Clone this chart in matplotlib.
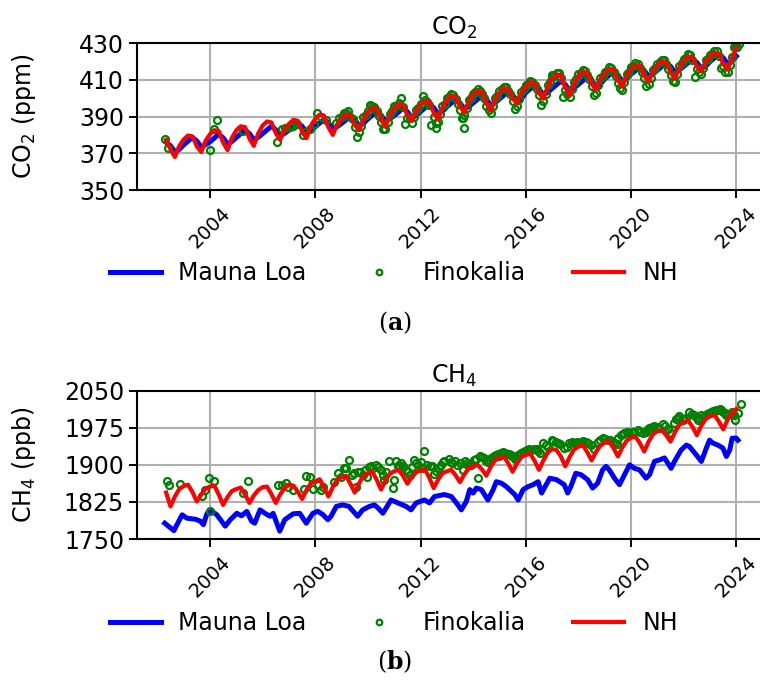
import numpy as np
import matplotlib
matplotlib.use("Agg")
from matplotlib import pyplot as plt

# ---- CO2 (ppm) ----
# bimonthly values (Jan, Mar, May, Jul, Sep, Nov), May 2002 -> Jan 2024
co2_mlo = [376.0, 374.1, 370.8, 372.1,
           374.6, 376.6, 378.6, 376.7, 373.4, 374.7,
           376.3, 378.3, 380.3, 378.4, 375.1, 376.4,
           378.6, 380.6, 382.6, 380.7, 377.4, 378.7,
           380.7, 382.7, 384.7, 382.8, 379.5, 380.8,
           382.6, 384.6, 386.6, 384.7, 381.4, 382.7,
           384.4, 386.4, 388.4, 386.5, 383.2, 384.5,
           386.2, 388.2, 390.2, 388.3, 385.0, 386.3,
           388.7, 390.7, 392.7, 390.8, 387.5, 388.8,
           390.5, 392.5, 394.5, 392.6, 389.3, 390.6,
           392.7, 394.7, 396.7, 394.8, 391.5, 392.8,
           395.3, 397.3, 399.3, 397.4, 394.1, 395.4,
           397.4, 399.4, 401.4, 399.5, 396.2, 397.5,
           399.6, 401.6, 403.6, 401.7, 398.4, 399.7,
           403.0, 405.0, 407.0, 405.1, 401.8, 403.1,
           405.3, 407.3, 409.3, 407.4, 404.1, 405.4,
           407.5, 409.5, 411.5, 409.6, 406.3, 407.6,
           410.5, 412.5, 414.5, 412.6, 409.3, 410.6,
           413.0, 415.0, 417.0, 415.1, 411.8, 413.1,
           415.2, 417.2, 419.2, 417.3, 414.0, 415.3,
           417.3, 419.3, 421.3, 419.4, 416.1, 417.4,
           419.9, 421.9, 423.9, 422.0, 418.7, 420.0,
           422.8]
co2_nh = [377.3, 372.0, 368.0, 374.0,
          377.5, 379.7, 379.2, 373.8, 370.7, 376.8,
          380.4, 382.6, 382.1, 375.8, 371.7, 378.4,
          382.5, 384.7, 384.2, 378.0, 374.0, 380.8,
          385.1, 387.3, 386.8, 381.0, 377.3, 382.9,
          386.0, 388.2, 387.7, 381.9, 378.2, 384.8,
          388.8, 391.0, 390.5, 384.2, 380.0, 385.8,
          389.0, 391.2, 390.7, 385.5, 382.5, 388.8,
          392.5, 394.7, 394.2, 388.2, 384.4, 390.7,
          394.5, 396.7, 396.2, 390.8, 387.6, 393.2,
          396.3, 398.5, 398.0, 392.2, 388.5, 395.0,
          399.1, 401.3, 400.8, 395.4, 392.2, 398.3,
          401.9, 404.1, 403.6, 397.3, 393.2, 399.4,
          403.2, 405.4, 404.9, 399.9, 397.0, 403.0,
          406.5, 408.7, 408.2, 402.8, 399.7, 406.4,
          410.7, 412.9, 412.4, 405.9, 401.6, 408.1,
          412.2, 414.4, 413.9, 408.0, 404.4, 410.3,
          413.7, 415.9, 415.4, 409.8, 406.3, 412.3,
          415.9, 418.1, 417.6, 412.2, 409.0, 414.6,
          417.8, 420.0, 419.5, 414.0, 410.6, 416.8,
          420.5, 422.7, 422.2, 417.4, 414.7, 419.8,
          422.5, 424.7, 424.2, 418.8, 415.6, 421.5,
          427.5]
# Finokalia: bimonthly (Feb, Apr, Jun, Aug, Oct, Dec), Jun 2009 -> Feb 2024
fin_co2 = [388.5, 378.8, 385.0, 391.0,
           396.3, 395.0, 390.5, 383.3, 387.0, 392.8,
           395.8, 400.0, 386.0, 389.0, 390.0, 394.5,
           401.2, 398.0, 385.5, 383.5, 391.5, 396.8,
           400.5, 401.8, 397.0, 389.0, 394.5, 400.0,
           403.5, 404.0, 400.0, 393.5, 395.5, 401.0,
           404.8, 406.0, 402.0, 394.0, 399.5, 405.0,
           407.5, 409.0, 405.0, 396.3, 402.5, 409.0,
           412.0, 413.5, 400.6, 402.0, 405.0, 410.5,
           413.8, 415.0, 410.5, 401.6, 407.0, 412.3,
           415.0, 416.5, 412.0, 405.7, 409.0, 414.5,
           417.5, 418.8, 414.0, 406.8, 411.0, 416.5,
           419.5, 420.8, 416.0, 409.4, 413.0, 419.0,
           422.0, 423.5, 411.3, 414.0, 416.5, 421.5,
           424.0, 425.5, 416.5, 414.5, 418.0, 427.8,
           429.6]
# Finokalia: bimonthly (Jan, Mar, May, Jul, Sep, Nov), Jan 2009 -> Jan 2024
fin_co2_b = [390.0, 392.0, 389.5, 384.5, 381.5, 389.5,
             393.0, 395.5, 393.0, 387.0, 383.0, 391.5,
             395.5, 397.5, 395.0, 389.0, 386.5, 393.8,
             397.0, 399.0, 396.5, 389.5, 387.0, 395.5,
             400.0, 402.0, 399.5, 393.5, 391.0, 398.8,
             402.5, 404.8, 402.5, 396.0, 392.0, 400.0,
             404.0, 406.0, 404.0, 398.5, 395.5, 403.5,
             407.0, 409.5, 407.0, 401.5, 398.5, 407.0,
             411.5, 413.8, 411.0, 404.5, 400.5, 408.8,
             413.0, 415.2, 412.5, 406.5, 403.0, 411.0,
             414.5, 416.8, 414.0, 408.5, 404.5, 413.0,
             416.8, 419.0, 416.5, 411.0, 407.5, 415.5,
             418.8, 421.0, 418.5, 412.5, 409.0, 417.5,
             421.5, 423.8, 421.0, 416.0, 413.0, 420.5,
             423.5, 425.8, 423.0, 417.5, 414.0, 422.5,
             428.0]
# Finokalia: early / extra samples
fin_co2_xt = [2002.30, 2002.40, 2004.01, 2004.15, 2004.25, 2005.27, 2006.53,
              2006.72, 2006.85, 2007.03, 2007.16, 2007.30, 2007.53, 2007.62,
              2007.79, 2007.97, 2008.06, 2008.22, 2008.40, 2008.79, 2008.92,
              2009.10, 2009.23, 2012.60, 2013.62, 2013.65, 2017.00, 2024.04]
fin_co2_xv = [377.5, 372.6, 371.7, 383.0, 388.0, 382.0, 376.3,
              383.3, 384.0, 384.4, 385.1, 386.0, 380.0, 381.5,
              383.3, 385.7, 391.9, 389.5, 388.0, 386.6, 389.4,
              391.9, 393.2, 386.5, 389.0, 383.8, 412.8, 427.8]

# ---- CH4 (ppb) ----
ch4_mlo_t = [2002.28, 2002.63, 2002.94, 2003.13, 2003.45, 2003.64, 2003.75, 2003.89,
             2004.08, 2004.26, 2004.58, 2004.77, 2005.02, 2005.20, 2005.40, 2005.58,
             2005.70, 2005.90, 2006.09, 2006.28, 2006.40, 2006.65, 2006.84, 2007.16,
             2007.41, 2007.66, 2007.91, 2008.10, 2008.30, 2008.48, 2008.60, 2008.80,
             2009.04, 2009.28, 2009.61, 2009.80, 2010.06, 2010.25, 2010.40, 2010.57,
             2010.88, 2011.14, 2011.45, 2011.64, 2011.83, 2012.15, 2012.34, 2012.53,
             2012.91, 2013.17, 2013.42, 2013.55, 2013.74, 2013.87, 2014.00, 2014.12,
             2014.31, 2014.56, 2014.76, 2014.88, 2015.07, 2015.26, 2015.58, 2015.71,
             2015.90, 2016.09, 2016.28, 2016.47, 2016.60, 2016.91, 2017.17, 2017.46,
             2017.59, 2017.71, 2017.90, 2018.10, 2018.35, 2018.54, 2018.73, 2018.92,
             2019.05, 2019.17, 2019.37, 2019.56, 2019.75, 2019.94, 2020.13, 2020.32,
             2020.57, 2020.70, 2020.89, 2021.08, 2021.27, 2021.52, 2021.65, 2021.90,
             2022.10, 2022.22, 2022.48, 2022.67, 2022.86, 2022.98, 2023.11, 2023.30,
             2023.49, 2023.62, 2023.75, 2023.84, 2024.00, 2024.06]
ch4_mlo = [1782, 1767, 1799, 1792, 1790, 1786, 1779, 1802,
           1806, 1799, 1776, 1789, 1802, 1797, 1806, 1786,
           1782, 1809, 1802, 1796, 1802, 1766, 1789, 1801,
           1802, 1782, 1802, 1806, 1799, 1789, 1796, 1816,
           1819, 1816, 1796, 1809, 1816, 1819, 1812, 1802,
           1829, 1823, 1816, 1809, 1823, 1829, 1823, 1836,
           1840, 1836, 1819, 1809, 1826, 1850, 1843, 1853,
           1850, 1829, 1850, 1866, 1863, 1856, 1840, 1829,
           1850, 1856, 1860, 1866, 1843, 1873, 1870, 1860,
           1843, 1856, 1883, 1880, 1870, 1853, 1863, 1890,
           1897, 1890, 1873, 1860, 1880, 1900, 1893, 1890,
           1873, 1880, 1907, 1910, 1914, 1893, 1907, 1930,
           1940, 1937, 1920, 1907, 1934, 1950, 1944, 1940,
           1934, 1917, 1930, 1954, 1954, 1950]
# NH: bimonthly (Jan, Mar, May, Jul, Sep, Nov), May 2002 -> Jan 2024
ch4_nh = [1844, 1816, 1836, 1851,
          1857, 1860, 1845, 1826, 1840, 1852,
          1856, 1858, 1840, 1819, 1835, 1847,
          1851, 1854, 1840, 1823, 1838, 1849,
          1855, 1856, 1841, 1823, 1840, 1853,
          1860, 1858, 1846, 1831, 1849, 1863,
          1866, 1871, 1855, 1836, 1855, 1870,
          1875, 1878, 1862, 1844, 1863, 1878,
          1883, 1886, 1870, 1850, 1868, 1882,
          1887, 1890, 1878, 1862, 1875, 1885,
          1889, 1891, 1874, 1853, 1870, 1883,
          1887, 1890, 1879, 1865, 1881, 1893,
          1897, 1900, 1891, 1878, 1896, 1909,
          1914, 1917, 1903, 1886, 1903, 1916,
          1920, 1923, 1908, 1890, 1909, 1925,
          1932, 1930, 1917, 1897, 1916, 1931,
          1937, 1940, 1926, 1909, 1926, 1939,
          1945, 1947, 1934, 1917, 1935, 1949,
          1955, 1957, 1944, 1927, 1947, 1962,
          1968, 1970, 1960, 1947, 1966, 1981,
          1986, 1990, 1977, 1960, 1979, 1993,
          1998, 2001, 1988, 1972, 1991, 2005,
          2013]
fin_ch4_t = [2002.35, 2002.44, 2002.86, 2003.70, 2003.82, 2003.95, 2004.01, 2004.16,
             2005.25, 2005.43, 2006.60, 2006.72, 2006.88, 2006.97, 2007.16, 2007.56,
             2007.64, 2007.79, 2007.91, 2008.10, 2008.23, 2008.30, 2008.73, 2008.86,
             2008.98, 2009.10, 2009.17, 2009.30, 2009.40, 2009.48, 2009.55, 2009.62,
             2009.80, 2009.95, 2010.06, 2010.20, 2010.31, 2010.50, 2010.57, 2010.63,
             2010.82, 2010.95, 2011.00, 2011.07, 2011.20, 2011.33, 2011.45, 2011.60,
             2011.75, 2011.90, 2012.05, 2012.15, 2012.25, 2012.43, 2012.60, 2012.79,
             2012.91, 2013.07, 2013.20, 2013.30, 2013.49, 2013.60, 2013.68, 2013.80,
             2013.93, 2014.05, 2014.18, 2014.25, 2014.40, 2014.55, 2014.69, 2014.88,
             2015.00, 2015.07, 2015.20, 2015.35, 2015.48, 2015.60, 2015.71, 2015.90,
             2016.03, 2016.20, 2016.41, 2016.55, 2016.66, 2016.85, 2016.98, 2017.14,
             2017.30, 2017.46, 2017.65, 2017.84, 2018.03, 2018.18, 2018.29, 2018.48,
             2018.60, 2018.73, 2018.92, 2019.11, 2019.30, 2019.45, 2019.62, 2019.75,
             2019.94, 2020.13, 2020.25, 2020.44, 2020.55, 2020.70, 2020.89, 2021.08,
             2021.20, 2021.40, 2021.52, 2021.71, 2021.84, 2021.97, 2022.10, 2022.22,
             2022.41, 2022.54, 2022.67, 2022.79, 2022.95, 2023.11, 2023.24, 2023.37,
             2023.49, 2023.62, 2023.84, 2023.94, 2024.06, 2024.16]
fin_ch4 = [1868, 1860, 1861, 1838, 1850, 1873, 1806, 1868,
           1843, 1868, 1860, 1860, 1863, 1856, 1850, 1851,
           1877, 1875, 1851, 1860, 1850, 1855, 1866, 1883,
           1875, 1893, 1893, 1910, 1880, 1883, 1856, 1886,
           1880, 1875, 1895, 1893, 1900, 1889, 1880, 1870,
           1907, 1853, 1870, 1907, 1900, 1897, 1890, 1880,
           1909, 1900, 1893, 1928, 1900, 1897, 1887, 1900,
           1907, 1911, 1903, 1907, 1903, 1890, 1907, 1900,
           1900, 1910, 1873, 1917, 1913, 1905, 1914, 1920,
           1918, 1924, 1925, 1921, 1917, 1912, 1920, 1927,
           1930, 1930, 1932, 1925, 1945, 1937, 1950, 1947,
           1943, 1934, 1944, 1945, 1944, 1948, 1947, 1940,
           1933, 1947, 1954, 1951, 1947, 1943, 1961, 1964,
           1964, 1967, 1971, 1964, 1967, 1974, 1979, 1974,
           1983, 1972, 1964, 1992, 1998, 1991, 1994, 2006,
           2001, 1990, 2001, 1998, 2004, 2008, 2010, 2012,
           2007, 2001, 2006, 1991, 2004, 2023]
fin_ch4_t2 = [2009.70, 2009.88, 2010.13, 2010.40, 2010.70, 2011.13, 2011.27, 2011.52,
              2011.68, 2011.82, 2012.00, 2012.35, 2012.52, 2012.70, 2012.85, 2013.14,
              2013.40, 2013.75, 2014.12, 2014.33, 2014.48, 2014.62, 2014.80, 2014.95,
              2015.13, 2015.28, 2015.42, 2015.54, 2015.80, 2015.97, 2016.12, 2016.30,
              2016.48, 2016.75, 2017.05, 2017.22, 2017.55, 2017.75, 2017.95, 2018.10,
              2018.38, 2018.82, 2019.02, 2019.20, 2019.38, 2019.52, 2019.68, 2019.85,
              2020.05, 2020.35, 2020.62, 2020.80, 2021.00, 2021.30, 2021.62, 2021.78,
              2022.03, 2022.30, 2022.48, 2022.60, 2022.87, 2023.03, 2023.18, 2023.30,
              2023.43, 2023.56, 2023.72, 2023.90]
fin_ch4_2 = [1885, 1890, 1898, 1895, 1885, 1898, 1903, 1885,
             1895, 1903, 1905, 1898, 1882, 1893, 1905, 1905,
             1900, 1903, 1912, 1915, 1908, 1910, 1917, 1922,
             1926, 1922, 1920, 1915, 1925, 1929, 1932, 1933,
             1928, 1940, 1948, 1944, 1937, 1946, 1947, 1945,
             1944, 1950, 1953, 1950, 1945, 1955, 1962, 1966,
             1966, 1967, 1970, 1977, 1977, 1978, 1985, 1994,
             1993, 2003, 1996, 1995, 2002, 2006, 2009, 2011,
             2010, 2004, 2003, 2000]

years = [2004, 2008, 2012, 2016, 2020, 2024]

# time grids for the bimonthly series
t_line = 2002 + (np.arange(len(co2_nh)) + 2) / 6.0
t_fin_co2 = 2009 + 5 / 12.0 + np.arange(len(fin_co2)) / 6.0
t_fin_co2_b = 2009 + np.arange(len(fin_co2_b)) / 6.0

plt.rcParams['font.family'] = ['DejaVu Sans']
plt.rcParams['font.size'] = 17

fig = plt.figure(figsize=(7.6, 6.93), dpi=100)
ax1 = fig.add_axes([0.1807, 0.7258, 0.8325, 0.2121])
ax2 = fig.add_axes([0.1807, 0.2222, 0.8325, 0.2140])

blue = '#0000ff'
red = '#ff0000'
green = '#008000'
mk = dict(ls='none', marker='o', mfc='none', mec=green, ms=5, mew=1.6)

fin_co2_t_all = np.concatenate([fin_co2_xt, t_fin_co2, t_fin_co2_b])
fin_co2_v_all = fin_co2_xv + fin_co2 + fin_co2_b

l1, = ax1.plot(t_line, co2_mlo, color=blue, lw=3.6, label='Mauna Loa')
ax1.plot(fin_co2_t_all, fin_co2_v_all, **mk)
ax1.plot(t_line, co2_nh, color=red, lw=3.0)

ax2.plot(ch4_mlo_t, ch4_mlo, color=blue, lw=3.6)
l2, = ax2.plot(fin_ch4_t + fin_ch4_t2, fin_ch4 + fin_ch4_2, label='Finokalia', **mk)
l3, = ax2.plot(t_line, ch4_nh, color=red, lw=3.0, label='NH')

for ax in (ax1, ax2):
    ax.set_xlim(2001.24, 2025.28)
    ax.set_xticks(years)
    ax.set_xticklabels([str(y) for y in years], rotation=45, fontsize=14)
    ax.grid(True, color='#b0b0b0', lw=1.5)
    ax.set_axisbelow(True)
    for s in ax.spines.values():
        s.set_linewidth(1.5)
    ax.tick_params(length=6, width=1.4)

ax1.set_ylim(350, 430)
ax1.set_yticks([350, 370, 390, 410, 430])
ax1.set_title('CO$_2$', fontsize=17)
ax1.set_ylabel('CO$_2$ (ppm)')
ax1.yaxis.set_label_coords(-0.157, 0.5)

ax2.set_ylim(1750, 2050)
ax2.set_yticks([1750, 1825, 1900, 1975, 2050])
ax2.set_title('CH$_4$', fontsize=17)
ax2.set_ylabel('CH$_4$ (ppb)')
ax2.yaxis.set_label_coords(-0.157, 0.5)

handles = [l1, l2, l3]
labels = ['Mauna Loa', 'Finokalia', 'NH']
for yc in (273, 623):
    fig.legend(handles, labels, loc='center', bbox_to_anchor=(0.518, 1 - yc / 693),
               ncol=3, frameon=False, handlelength=2.16, handletextpad=0.76,
               columnspacing=2.0, fontsize=17, markerscale=0.8)

fig.text(394.5 / 760, 1 - 323 / 693, r'($\mathbf{a}$)', ha='center', va='center',
         family='DejaVu Serif', math_fontfamily='dejavuserif', fontsize=17)
fig.text(394.5 / 760, 1 - 662 / 693, r'($\mathbf{b}$)', ha='center', va='center',
         family='DejaVu Serif', math_fontfamily='dejavuserif', fontsize=17)

plt.savefig('out.png', dpi=100)
